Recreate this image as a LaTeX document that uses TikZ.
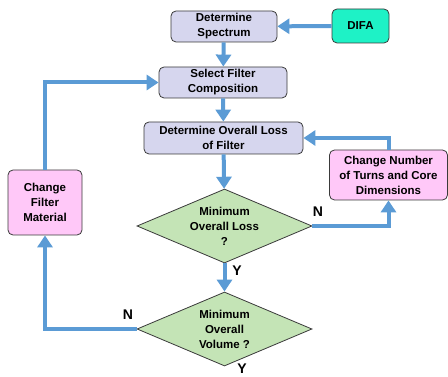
\documentclass[tikz,border=0pt]{standalone}
\usepackage{fontspec}
\setmainfont{Liberation Sans}
\usetikzlibrary{shapes.geometric,arrows.meta}
\definecolor{boxfill}{HTML}{D6D6EE}
\definecolor{pinkfill}{HTML}{FFC8F8}
\definecolor{greenfill}{HTML}{C4E4B6}
\definecolor{difafill}{HTML}{1EF2C6}
\definecolor{flowblue}{HTML}{5B9BD5}
\definecolor{edge}{HTML}{3A3A3A}
\tikzset{
  x=1pt,y=-1pt,
  font=\fontsize{11.5}{15}\selectfont\bfseries,
  procbox/.style={draw=edge,line width=0.8pt,rounded corners=5pt,fill=boxfill,
    align=center,inner sep=0pt},
  pinkbox/.style={procbox,fill=pinkfill},
  decision/.style={draw=edge,line width=0.8pt,diamond,aspect=2.36,fill=greenfill,
    align=center,inner sep=0pt,minimum width=175pt,minimum height=74pt},
  flow/.style={draw=flowblue,line width=4pt,-{Triangle[length=12pt,width=15pt]}},
  lbl/.style={font=\fontsize{14}{14}\selectfont\bfseries,inner sep=0pt}
}
\begin{document}
\begin{tikzpicture}
\useasboundingbox (0,0) rectangle (448,377);
% process boxes
\node[procbox,minimum width=106pt,minimum height=31pt] (spec) at (224,26.5) {Determine\\Spectrum};
\node[procbox,fill=difafill,minimum width=57pt,minimum height=34pt] (difa) at (360.5,26) {DIFA};
\node[procbox,minimum width=128pt,minimum height=31pt] (sel) at (223,82.5) {Select Filter\\Composition};
\node[procbox,minimum width=159pt,minimum height=32pt] (loss) at (223.5,138) {Determine Overall Loss\\of Filter};
\node[pinkbox,minimum width=118pt,minimum height=50pt] (turns) at (388.5,175) {Change Number\\of Turns and Core\\Dimensions};
\node[pinkbox,minimum width=74pt,minimum height=65pt] (mat) at (45,202.5) {Change\\Filter\\Material};
% decisions
\node[decision] (dloss) at (224.5,226) {Minimum\\Overall Loss\\?};
\node[decision] (dvol) at (224.5,329) {Minimum\\Overall\\Volume ?};
% connectors
\draw[flow] (difa) -- (spec);
\draw[flow] (spec) -- (sel);
\draw[flow] (sel) -- (loss);
\draw[flow] (loss) -- (dloss);
\draw[flow] (dloss.east) -| (turns.south);
\draw[flow] (turns.north) |- (loss.east);
\draw[flow] (dloss) -- (dvol);
\draw[flow] (dvol.west) -| (mat.south);
\draw[flow] (mat.north) |- (sel.west);
% branch labels
\node[lbl] (n1) at (318,212) {N};
\node[lbl] (y1) at (237,271) {Y};
\node[lbl] (n2) at (128,315) {N};
\node[lbl] (y2) at (242,369) {Y};
\end{tikzpicture}
\end{document}
